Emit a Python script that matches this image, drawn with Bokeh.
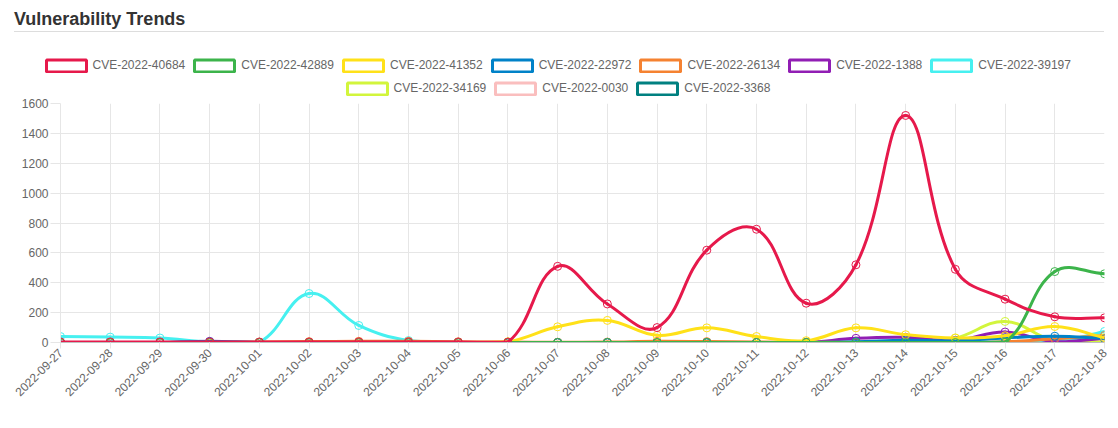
import math
from bokeh.plotting import figure
from bokeh.models import Range1d, FixedTicker, Legend, LegendItem, ColumnDataSource, Div
from bokeh.layouts import column
from bokeh.embed import file_html
from bokeh.resources import INLINE

# ---------------- data ----------------
dates = ["2022-09-27", "2022-09-28", "2022-09-29", "2022-09-30", "2022-10-01",
         "2022-10-02", "2022-10-03", "2022-10-04", "2022-10-05", "2022-10-06",
         "2022-10-07", "2022-10-08", "2022-10-09", "2022-10-10", "2022-10-11",
         "2022-10-12", "2022-10-13", "2022-10-14", "2022-10-15", "2022-10-16",
         "2022-10-17", "2022-10-18"]

cve_names = ["CVE-2022-40684", "CVE-2022-42889", "CVE-2022-41352", "CVE-2022-22972",
             "CVE-2022-26134", "CVE-2022-1388", "CVE-2022-39197", "CVE-2022-34169",
             "CVE-2022-0030", "CVE-2022-3368"]

colors = ["#e6194b", "#3cb44b", "#ffe119", "#0082c8", "#f58231",
          "#911eb4", "#46f0f0", "#d2f53c", "#fabebe", "#008080"]

cve_2022_40684 = [4, 4, 4, 4, 3, 3, 4, 4, 3, 3, 510, 258, 100, 618, 758, 263, 520, 1520, 490, 290, 172, 165]
cve_2022_42889 = [0, 0, 0, 0, 0, 0, 0, 0, 0, 0, 0, 0, 0, 0, 0, 0, 0, 0, 0, 2, 475, 460]
cve_2022_41352 = [0, 0, 0, 0, 0, 0, 0, 0, 0, 5, 105, 148, 48, 98, 40, 12, 98, 52, 30, 45, 107, 32]
cve_2022_22972 = [0, 0, 0, 5, 0, 0, 0, 0, 0, 0, 0, 0, 0, 0, 0, 0, 5, 15, 12, 30, 42, 27]
cve_2022_26134 = [0, 0, 0, 0, 3, 6, 8, 8, 5, 3, 2, 3, 8, 6, 3, 2, 2, 3, 2, 5, 25, 47]
cve_2022_1388 = [0, 0, 0, 8, 0, 0, 0, 0, 0, 0, 0, 0, 0, 0, 0, 0, 28, 35, 15, 70, 5, 28]
cve_2022_39197 = [40, 36, 30, 5, 2, 328, 114, 13, 0, 0, 0, 0, 0, 0, 0, 0, 0, 0, 0, 5, 2, 74]
cve_2022_34169 = [0, 0, 0, 0, 0, 0, 0, 0, 0, 0, 0, 0, 0, 0, 0, 0, 0, 0, 30, 141, 10, 3]
cve_2022_0030 = [0, 0, 0, 0, 0, 0, 0, 0, 0, 0, 0, 0, 0, 0, 0, 0, 0, 0, 0, 0, 3, 10]
cve_2022_3368 = [0, 0, 0, 0, 0, 0, 0, 0, 0, 0, 0, 0, 0, 0, 0, 0, 0, 0, 0, 0, 8, 20]

series = [cve_2022_40684, cve_2022_42889, cve_2022_41352, cve_2022_22972, cve_2022_26134,
          cve_2022_1388, cve_2022_39197, cve_2022_34169, cve_2022_0030, cve_2022_3368]

y_ticks = [0, 200, 400, 600, 800, 1000, 1200, 1400, 1600]

# ---------------- geometry ----------------
FRAME_W = 1044
FRAME_H = 239
X_MAX = len(dates) - 1
Y_MAX = y_ticks[-1]
SX = FRAME_W / X_MAX
SY = FRAME_H / Y_MAX

FONT = "Liberation Sans"
GRID = "#e6e6e6"
TXT = "#666666"


def bezier_segments(xs, ys, t=0.4):
    """Chart.js style spline control points (computed in pixel space)."""
    px = [x * SX for x in xs]
    py = [y * SY for y in ys]
    n = len(px)
    prev_c, next_c = [], []
    for i in range(n):
        a = (px[max(i - 1, 0)], py[max(i - 1, 0)])
        b = (px[i], py[i])
        c = (px[min(i + 1, n - 1)], py[min(i + 1, n - 1)])
        d01 = math.hypot(b[0] - a[0], b[1] - a[1])
        d12 = math.hypot(c[0] - b[0], c[1] - b[1])
        tot = d01 + d12
        s01 = d01 / tot if tot else 0.0
        s12 = d12 / tot if tot else 0.0
        fa, fb = t * s01, t * s12
        pc = (b[0] - fa * (c[0] - a[0]), b[1] - fa * (c[1] - a[1]))
        nc = (b[0] + fb * (c[0] - a[0]), b[1] + fb * (c[1] - a[1]))
        clamp = lambda q: (min(max(q[0], 0), FRAME_W), min(max(q[1], 0), FRAME_H))
        prev_c.append(clamp(pc))
        next_c.append(clamp(nc))
    d = dict(x0=[], y0=[], x1=[], y1=[], cx0=[], cy0=[], cx1=[], cy1=[])
    for i in range(n - 1):
        d["x0"].append(xs[i]); d["y0"].append(ys[i])
        d["x1"].append(xs[i + 1]); d["y1"].append(ys[i + 1])
        d["cx0"].append(next_c[i][0] / SX); d["cy0"].append(next_c[i][1] / SY)
        d["cx1"].append(prev_c[i + 1][0] / SX); d["cy1"].append(prev_c[i + 1][1] / SY)
    return d


# ---------------- main chart ----------------
p = figure(width=1102, height=324, output_backend="svg", toolbar_location=None,
           x_range=Range1d(0, X_MAX), y_range=Range1d(0, Y_MAX),
           min_border_left=52, min_border_right=6, min_border_top=7, min_border_bottom=78,
           margin=0)
p.frame_align = False
p.outline_line_color = None
p.background_fill_color = "white"
p.border_fill_color = "white"

xs = list(range(len(dates)))

# draw in reverse so the first dataset ends on top
for i in reversed(range(len(series))):
    src = ColumnDataSource(bezier_segments(xs, series[i]))
    p.bezier(x0="x0", y0="y0", x1="x1", y1="y1", cx0="cx0", cy0="cy0", cx1="cx1", cy1="cy1",
             source=src, line_color=colors[i], line_width=3, line_cap="round")
    p.scatter(xs, series[i], size=8, line_color=colors[i], line_width=1,
              fill_color=None)

p.xaxis.ticker = FixedTicker(ticks=xs)
p.xaxis.major_label_overrides = {i: d for i, d in enumerate(dates)}
p.xaxis.major_label_orientation = math.pi / 4
p.xaxis.axis_line_color = "#bfbfbf"
p.xaxis.major_tick_line_color = GRID
p.xaxis.major_tick_out = 6
p.xaxis.major_tick_in = 0
p.xaxis.minor_tick_line_color = None
p.xaxis.major_label_standoff = 2

p.yaxis.ticker = FixedTicker(ticks=y_ticks)
p.yaxis.axis_line_color = GRID
p.yaxis.major_tick_line_color = GRID
p.yaxis.major_tick_out = 10
p.yaxis.major_tick_in = 0
p.yaxis.minor_tick_line_color = None
p.yaxis.major_label_standoff = 2

for ax in (p.xaxis, p.yaxis):
    ax.major_label_text_font = FONT
    ax.major_label_text_font_size = "12px"
    ax.major_label_text_color = TXT

p.xgrid.grid_line_color = GRID
p.ygrid.grid_line_color = GRID
p.xgrid.ticker = FixedTicker(ticks=xs)
p.ygrid.ticker = FixedTicker(ticks=y_ticks)

# ---------------- legend strip ----------------
lf = figure(width=1102, height=61, output_backend="svg", toolbar_location=None,
            x_range=Range1d(0, 1), y_range=Range1d(0, 1),
            min_border_left=0, min_border_right=0, min_border_top=0, min_border_bottom=0,
            margin=0)
lf.frame_align = False
lf.axis.visible = False
lf.grid.visible = False
lf.outline_line_color = None
lf.border_fill_color = "white"

NAN = float("nan")
items = []
for i in range(len(series)):
    # legend proxy: one NaN quad, so nothing is drawn in the strip itself
    r = lf.quad(left=[NAN], right=[NAN], top=[NAN], bottom=[NAN], line_color=colors[i],
                line_width=3, fill_color="white")
    items.append(LegendItem(label=cve_names[i], renderers=[r]))


def make_legend(its, loc):
    # area legend glyphs are inset by 10%: 50x15 slot -> 40x12 box
    return Legend(items=its, location=loc, orientation="horizontal",
                  glyph_width=50, glyph_height=15, label_height=12,
                  label_standoff=2, spacing=4, padding=0, margin=0,
                  border_line_color=None, background_fill_alpha=0,
                  label_text_font=FONT, label_text_font_size="12px",
                  label_text_color=TXT)


lf.add_layout(make_legend(items[:7], (32.5, 23.5)))
lf.add_layout(make_legend(items[7:], (333.5, 0.5)))

# ---------------- title ----------------
title = Div(text=("<div style=\"margin-left:6px;width:1090px;height:24px;padding-top:2px;"
                  "border-bottom:1px solid #dddddd;font-family:'Liberation Sans';"
                  "font-weight:bold;font-size:18px;line-height:18px;color:#333333;\">"
                  "Vulnerability Trends</div>"),
            width=1102, height=27, margin=0)

layout = column(title, lf, p, spacing=0, margin=(8, 0, 0, 8))

open("out.html", "w").write(file_html(layout, INLINE))
